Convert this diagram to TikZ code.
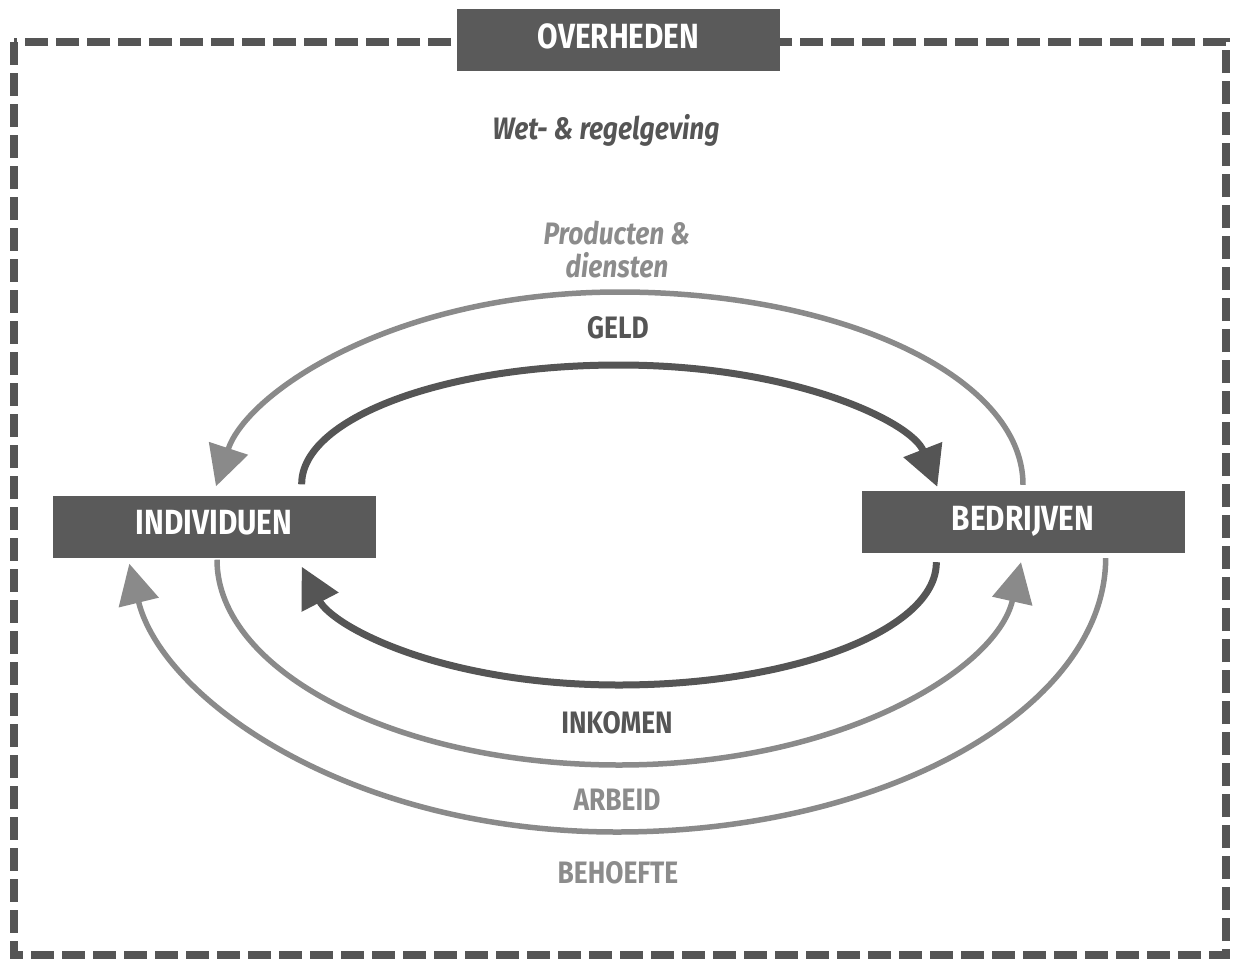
\documentclass[tikz,border=0pt]{standalone}
\usepackage{fontspec}
\usetikzlibrary{arrows.meta,calc}
\newfontfamily\brush[FakeStretch=0.85]{Fira Sans}

\definecolor{boxgray}{HTML}{5A5A5A}
\definecolor{darkline}{HTML}{555555}
\definecolor{lightline}{HTML}{8A8A8A}
\definecolor{lighttext}{HTML}{8C8C8C}

\tikzset{
  hdrbox/.style={fill=boxgray, minimum width=323pt, minimum height=62pt, inner sep=0pt,
    text depth=8pt, text=white, font=\brush\bfseries\fontsize{35}{38}\selectfont},
  caplabel/.style={inner sep=0pt, font=\brush\bfseries\fontsize{31}{33}\selectfont},
  handlabel/.style={inner sep=0pt, align=center, font=\brush\bfseries\itshape\fontsize{31}{33}\selectfont},
  flowdark/.style={draw=darkline, line width=7pt, -{Triangle[length=40pt,width=40pt]}},
  flowlight/.style={draw=lightline, line width=5.5pt, -{Triangle[length=40pt,width=40pt]}},
  frame/.style={draw=darkline, line width=8pt, dash pattern=on 23pt off 8pt}
}

\begin{document}
\begin{tikzpicture}[x=1pt, y=-1pt]
  \useasboundingbox (0,0) rectangle (1233,958);

  % government frame
  \draw[frame] (14,42) rectangle (1226,955);

  % boxes
  \node[hdrbox] (ov)  at (618.5,40) {OVERHEDEN};
  \node[hdrbox] (ind) at (214,526.5) {INDIVIDUEN};
  \node[hdrbox] (bed) at (1023,522) {BEDRIJVEN};

  % labels
  \node[handlabel, text=darkline]  (wet)  at (606,130) {Wet- \& regelgeving};
  \node[handlabel, text=lighttext] (prod) at (617,250) {Producten \&\\diensten};
  \node[caplabel, text=darkline]   (geld) at (618,328) {GELD};
  \node[caplabel, text=darkline]   (ink)  at (617,723) {INKOMEN};
  \node[caplabel, text=lighttext]  (arb)  at (617,800) {ARBEID};
  \node[caplabel, text=lighttext]  (beh)  at (618,873) {BEHOEFTE};

  % end points of the flows, next to the boxes
  \coordinate (pdS) at ($(bed.north)+(0,-6)$);
  \coordinate (pdE) at ($(ind.north)+(2,-9)$);
  \coordinate (gS)  at ($(ind.north east)+(-74,-11)$);
  \coordinate (gE)  at ($(bed.north west)+(76,-4)$);
  \coordinate (iS)  at ($(bed.south west)+(75,9)$);
  \coordinate (iE)  at ($(ind.south east)+(-74,9)$);
  \coordinate (aS)  at ($(ind.south)+(3,2)$);
  \coordinate (aE)  at ($(bed.south)+(-2,9)$);
  \coordinate (bS)  at ($(bed.south east)+(-79,5)$);
  \coordinate (bE)  at ($(ind.south west)+(77,6)$);

  % products & services: companies -> individuals
  \draw[flowlight] (pdS) .. controls (1023,377) and (842,292) .. (619,292)
                         .. controls (396,292) and (247,392) .. (pdE);
  % money: individuals -> companies
  \draw[flowdark] (gS) .. controls (301,419) and (442,365) .. (619,365)
                       .. controls (794,365) and (912,422) .. (gE);
  % income: companies -> individuals
  \draw[flowdark] (iS) .. controls (937,629) and (795,685) .. (619,685)
                       .. controls (443,685) and (333,627) .. (iE);
  % labour: individuals -> companies
  \draw[flowlight] (aS) .. controls (217,671) and (397,765) .. (619,765)
                        .. controls (841,765) and (997,669) .. (aE);
  % needs: companies -> individuals
  \draw[flowlight] (bS) .. controls (1105,708) and (886,832) .. (617,832)
                        .. controls (348,832) and (162,698) .. (bE);
\end{tikzpicture}
\end{document}
